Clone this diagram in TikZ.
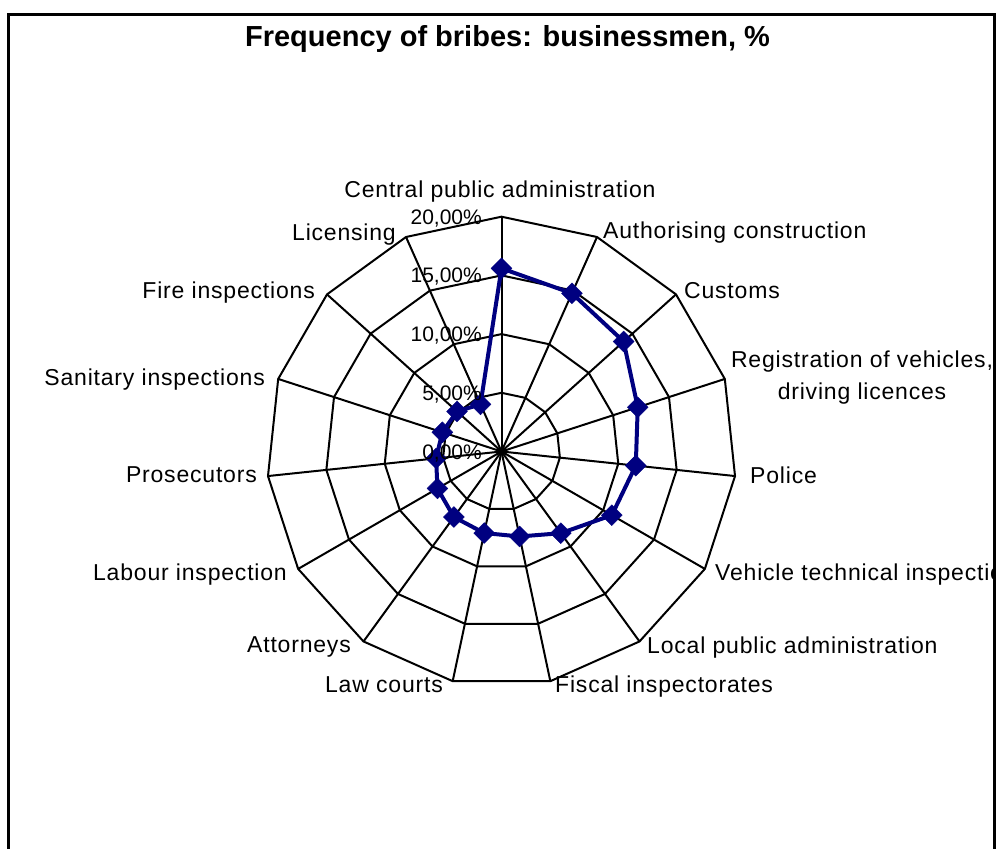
\documentclass[tikz,border=0pt]{standalone}
\usepackage{fontspec}
\setmainfont{Liberation Sans}
\newfontfamily\lblfont[LetterSpace=3.5]{Liberation Sans}
\usetikzlibrary{calc,shapes.geometric}
\definecolor{navy}{RGB}{0,0,128}
\begin{document}
\begin{tikzpicture}[x=1pt,y=-1pt,
  grid/.style={black, line width=2pt, line join=miter},
  series/.style={navy, line width=4pt, line join=round},
  marker/.style={diamond, fill=navy, draw=navy, inner sep=0pt, minimum width=21pt, minimum height=21pt},
  cat/.style={font=\lblfont\fontsize{23}{32}\selectfont, inner sep=0pt, text=black},
  tick/.style={font=\fontsize{21}{24}\selectfont, inner sep=0pt, anchor=base east, text=black}]
\clip (0,0) rectangle (1000,848);
\fill[white] (0,0) rectangle (1000,848);
\coordinate (C) at (501.5,451.5);
\def\R{234.8}
\foreach \i in {0,...,14} {
  \coordinate (V\i) at ($(C)+({24*\i-90}:\R)$);
}
% rings
\foreach \k in {1,2,3,4} {
  \draw[grid] ($(C)+(-90:{\k*\R/4})$) \foreach \i in {1,...,14}{ -- ($(C)+({24*\i-90}:{\k*\R/4})$)} -- cycle;
}
% spokes
\foreach \i in {0,...,14} \draw[grid] (C) -- (V\i);
% data
\foreach \v [count=\i from 0] in {15.6,14.75,14.0,12.2,11.5,10.85,8.6,7.4,7.1,6.9,6.3,5.6,5.3,5.1,4.4} {
  \coordinate (D\i) at ($(C)+({24*\i-90}:{\v*\R/20})$);
}
\draw[series] (D0) \foreach \i in {1,...,14}{ -- (D\i)} -- cycle;
\foreach \i in {0,...,14} \node[marker] (M\i) at (D\i) {};
% tick labels
\node[tick] (t0) at (482,459.0) {0,00\%};
\node[tick] (t5) at (482,400.3) {5,00\%};
\node[tick] (t10) at (482,341.6) {10,00\%};
\node[tick] (t15) at (482,282.9) {15,00\%};
\node[tick] (t20) at (482,224.2) {20,00\%};
% category labels
\node[cat, anchor=base] (L0) at (500,197) {Central public administration};
\node[cat, anchor=base west] (L1) at (603,238) {Authorising construction};
\node[cat, anchor=base west] (L2) at (684,298) {Customs};
\node[cat, align=center, anchor=center] (L3) at (862,378) {Registration of vehicles,\\driving licences};
\node[cat, anchor=base west] (L4) at (750,483) {Police};
\begin{scope}
\clip (8,15) rectangle (994,848);
\node[cat, anchor=base west] (L5) at (715,580) {Vehicle technical inspection};
\end{scope}
\node[cat, anchor=base west] (L6) at (647,653) {Local public administration};
\node[cat, anchor=base west] (L7) at (555,692) {Fiscal inspectorates};
\node[cat, anchor=base east] (L8) at (443,692) {Law courts};
\node[cat, anchor=base east] (L9) at (351,652) {Attorneys};
\node[cat, anchor=base east] (L10) at (287,580) {Labour inspection};
\node[cat, anchor=base east] (L11) at (257,482) {Prosecutors};
\node[cat, anchor=base east] (L12) at (265,385) {Sanitary inspections};
\node[cat, anchor=base east] (L13) at (315,298) {Fire inspections};
\node[cat, anchor=base east] (L14) at (396,240) {Licensing};
% title
\node[font=\bfseries\fontsize{29}{34}\selectfont, anchor=base, inner sep=0pt] (title) at (507.5,47) {Frequency of bribes: businessmen, \%};
% frame
\draw[line width=3pt] (8,15) rectangle (994,900);
\end{tikzpicture}
\end{document}
